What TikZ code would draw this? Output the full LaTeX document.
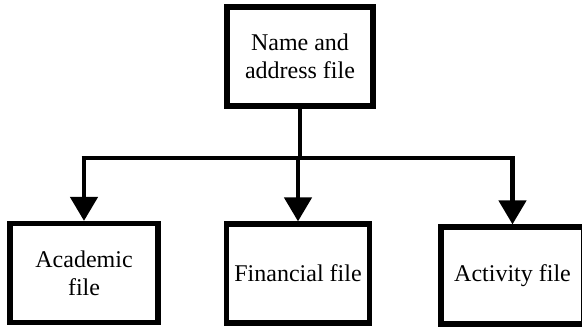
\documentclass[tikz,border=0pt]{standalone}
\usepackage{fontspec}
\setmainfont{Liberation Serif}
\usetikzlibrary{arrows.meta,positioning,calc}
\tikzset{
  blk/.style={draw,rectangle,line width=5.2pt,align=center,inner sep=0pt,
    font=\fontsize{24}{28}\selectfont},
  topblk/.style={blk,minimum width=146pt,minimum height=99pt},
  filblk/.style={blk,minimum width=143pt,minimum height=99pt},
  lnk/.style={line width=4.6pt},
  arr/.style={lnk,-{Triangle[width=27pt,length=24pt]}}
}
\begin{document}
\begin{tikzpicture}[x=1pt,y=-1pt]
  \useasboundingbox (0,0) rectangle (582,327);
  \node[topblk] (top) at (300,56.5) {Name and\\address file};
  \node[filblk, minimum width=148pt] (acad) at (84,273) {Academic\\file};
  \node[filblk] (fin) at (298,273.5) {Financial file};
  \node[filblk, minimum height=97pt] (act) at (512.5,275.5) {Activity file};
  \coordinate (split) at (300,158);

  \draw[lnk] (top.south) -- (split);
  \draw[lnk] ($(split -| acad.north)+(-2.3pt,0)$) -- ($(split -| act.north)+(2.3pt,0)$);
  \foreach \b in {acad,fin,act}
    \draw[arr] (split -| \b.north) -- (\b.north);
\end{tikzpicture}
\end{document}
